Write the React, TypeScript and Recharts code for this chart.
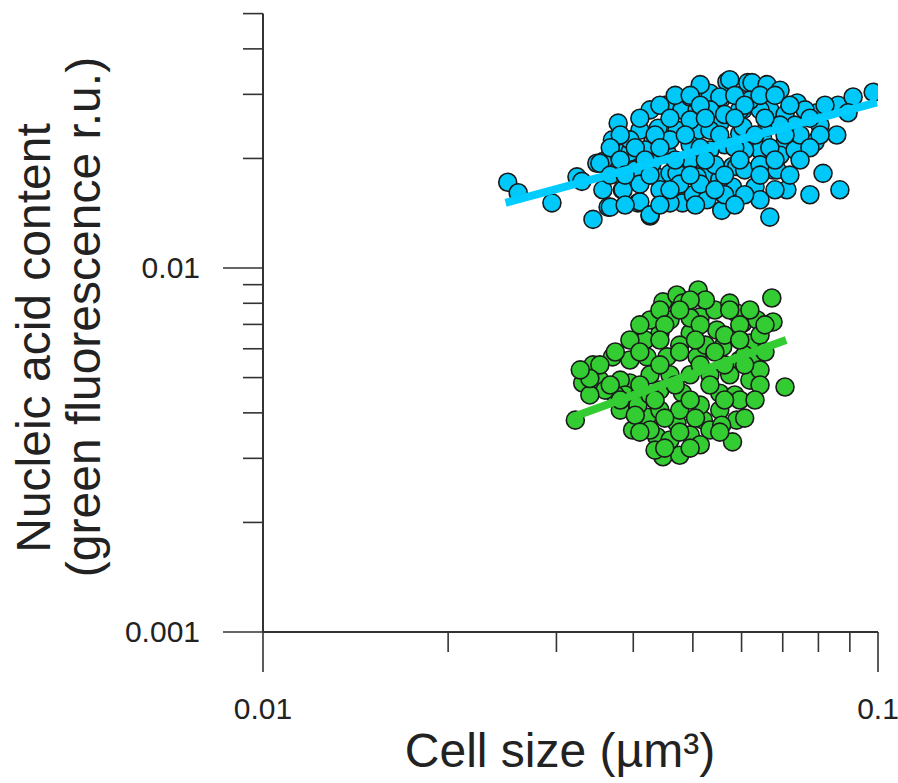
import React from "react";
import { ScatterChart, Scatter, XAxis, YAxis } from "recharts";

// Cell size (µm³) vs nucleic acid content (green fluorescence r.u.)
const CYAN_POINTS: [number, number][] = [
  [0.0250, 0.0172], [0.0260, 0.0161], [0.0295, 0.0151], [0.0324, 0.0178], [0.0330, 0.0173],
  [0.0349, 0.0194], [0.0344, 0.0136], [0.0357, 0.0164], [0.0364, 0.0147], [0.0384, 0.0164],
  [0.0385, 0.0207], [0.0407, 0.0151], [0.0426, 0.0139], [0.0437, 0.0178], [0.0459, 0.0182],
  [0.0481, 0.0151], [0.0378, 0.0250], [0.0357, 0.0196], [0.0395, 0.0208], [0.0431, 0.0225],
  [0.0439, 0.0242], [0.0480, 0.0272], [0.0508, 0.0272], [0.0495, 0.0295], [0.0533, 0.0302],
  [0.0557, 0.0293], [0.0568, 0.0325], [0.0614, 0.0323], [0.0660, 0.0314], [0.0667, 0.0272],
  [0.0603, 0.0272], [0.0553, 0.0250], [0.0510, 0.0239], [0.0471, 0.0239], [0.0454, 0.0207],
  [0.0429, 0.0194], [0.0596, 0.0234], [0.0650, 0.0225], [0.0675, 0.0186], [0.0580, 0.0190],
  [0.0514, 0.0190], [0.0471, 0.0182], [0.0574, 0.0329], [0.0624, 0.0323], [0.0660, 0.0319],
  [0.0693, 0.0308], [0.0739, 0.0284], [0.0796, 0.0267], [0.0861, 0.0280], [0.0911, 0.0295],
  [0.0982, 0.0304], [0.0894, 0.0267], [0.0857, 0.0232], [0.0790, 0.0222], [0.0706, 0.0221],
  [0.0660, 0.0244], [0.0603, 0.0244], [0.0533, 0.0239], [0.0553, 0.0295], [0.0596, 0.0272],
  [0.0643, 0.0272], [0.0685, 0.0186], [0.0631, 0.0167], [0.0643, 0.0154], [0.0667, 0.0138],
  [0.0711, 0.0164], [0.0775, 0.0159], [0.0814, 0.0182], [0.0867, 0.0164], [0.0557, 0.0144],
  [0.0589, 0.0190], [0.0527, 0.0182], [0.0520, 0.0157], [0.0580, 0.0167], [0.0353, 0.0194],
  [0.0385, 0.0164], [0.0367, 0.0147], [0.0410, 0.0152], [0.0426, 0.0140], [0.0459, 0.0151],
  [0.0508, 0.0178], [0.0501, 0.0159], [0.0527, 0.0154], [0.0410, 0.0239], [0.0426, 0.0272],
  [0.0450, 0.0280], [0.0468, 0.0298], [0.0514, 0.0319], [0.0495, 0.0255], [0.0533, 0.0272],
  [0.0563, 0.0264], [0.0619, 0.0289], [0.0643, 0.0298], [0.0706, 0.0264], [0.0733, 0.0247],
  [0.0761, 0.0272], [0.0693, 0.0247], [0.0643, 0.0211], [0.0607, 0.0211], [0.0563, 0.0218],
  [0.0533, 0.0211], [0.0495, 0.0218], [0.0459, 0.0225], [0.0418, 0.0211], [0.0403, 0.0186],
  [0.0410, 0.0170], [0.0442, 0.0164], [0.0476, 0.0170], [0.0514, 0.0170], [0.0553, 0.0175],
  [0.0607, 0.0186], [0.0643, 0.0192], [0.0693, 0.0204], [0.0733, 0.0211], [0.0747, 0.0232],
  [0.0805, 0.0247], [0.0563, 0.0159], [0.0607, 0.0159], [0.0495, 0.0198], [0.0543, 0.0192],
  [0.0395, 0.0225], [0.0370, 0.0225], [0.0367, 0.0180],
  [0.0495, 0.0298], [0.0585, 0.0298], [0.0680, 0.0298],
  [0.0442, 0.0280], [0.0514, 0.0280], [0.0607, 0.0280], [0.0719, 0.0280], [0.0820, 0.0280],
  [0.0410, 0.0258], [0.0459, 0.0258], [0.0524, 0.0258], [0.0585, 0.0258], [0.0655, 0.0258], [0.0775, 0.0258],
  [0.0381, 0.0232], [0.0434, 0.0232], [0.0486, 0.0232], [0.0553, 0.0232], [0.0631, 0.0232], [0.0706, 0.0232], [0.0805, 0.0232],
  [0.0367, 0.0214], [0.0403, 0.0214], [0.0442, 0.0214], [0.0514, 0.0214], [0.0585, 0.0214], [0.0667, 0.0214], [0.0775, 0.0214],
  [0.0381, 0.0198], [0.0418, 0.0198], [0.0468, 0.0198], [0.0524, 0.0198], [0.0596, 0.0198], [0.0680, 0.0198], [0.0747, 0.0198],
  [0.0388, 0.0180], [0.0426, 0.0180], [0.0495, 0.0180], [0.0563, 0.0180], [0.0643, 0.0180], [0.0719, 0.0180],
  [0.0459, 0.0164], [0.0543, 0.0164], [0.0680, 0.0164],
  [0.0388, 0.0149], [0.0442, 0.0149], [0.0505, 0.0149], [0.0585, 0.0149],
];

const GREEN_POINTS: [number, number][] = [
  [0.0322, 0.00382], [0.0344, 0.00542], [0.0370, 0.00570], [0.0331, 0.00483], [0.0353, 0.00492],
  [0.0447, 0.00807], [0.0471, 0.00843], [0.0510, 0.00870], [0.0481, 0.00801], [0.0514, 0.00734],
  [0.0672, 0.00827], [0.0675, 0.00711], [0.0706, 0.00471], [0.0580, 0.00333], [0.0447, 0.00303],
  [0.0437, 0.00344], [0.0399, 0.00359], [0.0442, 0.00462], [0.0481, 0.00453], [0.0553, 0.00453],
  [0.0619, 0.00492], [0.0619, 0.00622], [0.0559, 0.00607], [0.0508, 0.00570], [0.0454, 0.00570],
  [0.0421, 0.00570], [0.0395, 0.00483], [0.0589, 0.00382], [0.0520, 0.00382], [0.0471, 0.00375],
  [0.0421, 0.00389], [0.0381, 0.00407], [0.0547, 0.00675], [0.0603, 0.00706], [0.0636, 0.00720],
  [0.0589, 0.00752], [0.0442, 0.00662], [0.0495, 0.00662], [0.0410, 0.00646], [0.0381, 0.00492],
  [0.0388, 0.00448], [0.0410, 0.00448], [0.0426, 0.00509], [0.0459, 0.00509], [0.0495, 0.00509],
  [0.0533, 0.00509], [0.0574, 0.00509], [0.0596, 0.00559], [0.0585, 0.00448], [0.0553, 0.00407],
  [0.0514, 0.00420], [0.0476, 0.00407], [0.0442, 0.00407], [0.0407, 0.00420], [0.0426, 0.00359],
  [0.0459, 0.00337], [0.0495, 0.00348], [0.0533, 0.00359], [0.0557, 0.00370], [0.0395, 0.00559],
  [0.0418, 0.00634], [0.0476, 0.00614], [0.0524, 0.00614], [0.0563, 0.00542], [0.0607, 0.00577],
  [0.0631, 0.00559], [0.0543, 0.00767], [0.0495, 0.00729], [0.0459, 0.00720], [0.0426, 0.00720],
  [0.0524, 0.00817], [0.0574, 0.00801], [0.0563, 0.00654], [0.0643, 0.00654], [0.0403, 0.00394],
  [0.0434, 0.00316], [0.0476, 0.00306], [0.0514, 0.00327], [0.0426, 0.00448], [0.0374, 0.00448],
  [0.0360, 0.00462], [0.0340, 0.00448], [0.0596, 0.00434], [0.0643, 0.00525],
  [0.0495, 0.00817],
  [0.0442, 0.00767], [0.0476, 0.00767], [0.0574, 0.00767], [0.0619, 0.00767],
  [0.0410, 0.00698], [0.0450, 0.00698], [0.0514, 0.00698], [0.0596, 0.00698], [0.0655, 0.00698],
  [0.0395, 0.00634], [0.0442, 0.00634], [0.0505, 0.00634], [0.0596, 0.00634],
  [0.0374, 0.00588], [0.0410, 0.00588], [0.0476, 0.00588], [0.0543, 0.00588], [0.0655, 0.00588],
  [0.0353, 0.00542], [0.0442, 0.00542], [0.0514, 0.00542], [0.0607, 0.00542],
  [0.0367, 0.00477], [0.0410, 0.00477], [0.0468, 0.00477], [0.0533, 0.00477], [0.0643, 0.00477],
  [0.0381, 0.00434], [0.0434, 0.00434], [0.0495, 0.00434], [0.0563, 0.00434], [0.0631, 0.00434],
  [0.0450, 0.00387], [0.0505, 0.00387], [0.0607, 0.00387],
  [0.0410, 0.00354], [0.0476, 0.00354], [0.0553, 0.00354],
  [0.0450, 0.00320], [0.0495, 0.00320],
  [0.0340, 0.00497], [0.0328, 0.00525],
];

// Fitted regression lines (endpoints)
const CYAN_FIT: [number, number][] = [[0.0248, 0.0151], [0.0996, 0.0285]];
const GREEN_FIT: [number, number][] = [[0.0320, 0.00390], [0.0709, 0.00634]];

const X_TICKS = [0.01, 0.02, 0.03, 0.04, 0.05, 0.06, 0.07, 0.08, 0.09, 0.1];
const Y_TICKS = [0.001, 0.002, 0.003, 0.004, 0.005, 0.006, 0.007, 0.008, 0.009, 0.01, 0.02, 0.03, 0.04, 0.05];
const X_LABELS: Record<string, string> = { "0.01": "0.01", "0.1": "0.1" };
const Y_LABELS: Record<string, string> = { "0.001": "0.001", "0.01": "0.01" };

const X_TITLE = "Cell size (µm³)";
const Y_TITLE_1 = "Nucleic acid content";
const Y_TITLE_2 = "(green fluorescence r.u.)";

const CYAN = "#00C8F8";
const CYAN_LINE = "#00CCFF";
const GREEN = "#33CC33";
const GREEN_LINE = "#33CC33";
const FONT = "'Liberation Sans', Arial, sans-serif";
const AXIS = "#333333";

const toRows = (pts: [number, number][]) => pts.map(([x, y]) => ({ x, y }));

const W = 898;
const H = 783;

const Dot = (fill: string) => (props: any) => {
  const { cx, cy } = props;
  if (cx == null || cy == null) return <g />;
  return <circle cx={cx} cy={cy} r={9} fill={fill} stroke="#1a1a1a" strokeWidth={1.6} />;
};

const NoDot = () => <g />;

const YTick = (props: any) => {
  const { x, y, payload } = props;
  const key = String(payload.value);
  const label = Y_LABELS[key];
  const len = label ? 40 : 20;
  return (
    <g>
      <line x1={x - len} x2={x} y1={y} y2={y} stroke={AXIS} strokeWidth={1.6} />
      {label && (
        <text x={x - 63} y={y} dy={10} textAnchor="end" fontSize={30} fontFamily={FONT} fill="#222">
          {label}
        </text>
      )}
    </g>
  );
};

const XTick = (props: any) => {
  const { x, y, payload } = props;
  const key = String(payload.value);
  const label = X_LABELS[key];
  const len = label ? 40 : 20;
  return (
    <g>
      <line x1={x} x2={x} y1={y} y2={y + len} stroke={AXIS} strokeWidth={1.6} />
      {label && (
        <text x={x} y={y + 87} textAnchor="middle" fontSize={30} fontFamily={FONT} fill="#222">
          {label}
        </text>
      )}
    </g>
  );
};

export default function App() {
  return (
    <div style={{ position: "relative", width: W, height: H, background: "#fff" }}>
      <style>{"html,body{margin:0;padding:0;overflow:hidden;}"}</style>
      <ScatterChart width={W} height={H} margin={{ top: 13.6, right: 20, bottom: 0, left: 0 }}>
        <XAxis
          type="number"
          dataKey="x"
          scale="log"
          domain={[0.01, 0.1]}
          ticks={X_TICKS}
          interval={0}
          allowDataOverflow
          height={151}
          tickSize={0}
          tickMargin={0}
          tickLine={false}
          axisLine={{ stroke: AXIS, strokeWidth: 2 }}
          tick={<XTick />}
        />
        <YAxis
          type="number"
          dataKey="y"
          scale="log"
          domain={[0.001, 0.05]}
          ticks={Y_TICKS}
          interval={0}
          allowDataOverflow
          width={263}
          tickSize={0}
          tickMargin={0}
          tickLine={false}
          axisLine={{ stroke: AXIS, strokeWidth: 2 }}
          tick={<YTick />}
        />
        <Scatter data={toRows(CYAN_POINTS)} shape={Dot(CYAN)} isAnimationActive={false} />
        <Scatter data={toRows(GREEN_POINTS)} shape={Dot(GREEN)} isAnimationActive={false} />
        <Scatter
          data={toRows(CYAN_FIT)}
          line={{ stroke: CYAN_LINE, strokeWidth: 8 }}
          lineType="joint"
          shape={NoDot}
          isAnimationActive={false}
        />
        <Scatter
          data={toRows(GREEN_FIT)}
          line={{ stroke: GREEN_LINE, strokeWidth: 8 }}
          lineType="joint"
          shape={NoDot}
          isAnimationActive={false}
        />
      </ScatterChart>
      <svg
        width={W}
        height={H}
        style={{ position: "absolute", left: 0, top: 0, pointerEvents: "none" }}
      >
        <text x={560} y={767} textAnchor="middle" fontSize={48} fontFamily={FONT} fill="#222">
          {X_TITLE}
        </text>
        <text
          x={50}
          y={338}
          transform="rotate(-90 50 338)"
          textAnchor="middle"
          fontSize={48}
          fontFamily={FONT}
          fill="#222"
        >
          {Y_TITLE_1}
        </text>
        <text
          x={100}
          y={317}
          transform="rotate(-90 100 317)"
          textAnchor="middle"
          fontSize={48}
          fontFamily={FONT}
          fill="#222"
        >
          {Y_TITLE_2}
        </text>
      </svg>
    </div>
  );
}
